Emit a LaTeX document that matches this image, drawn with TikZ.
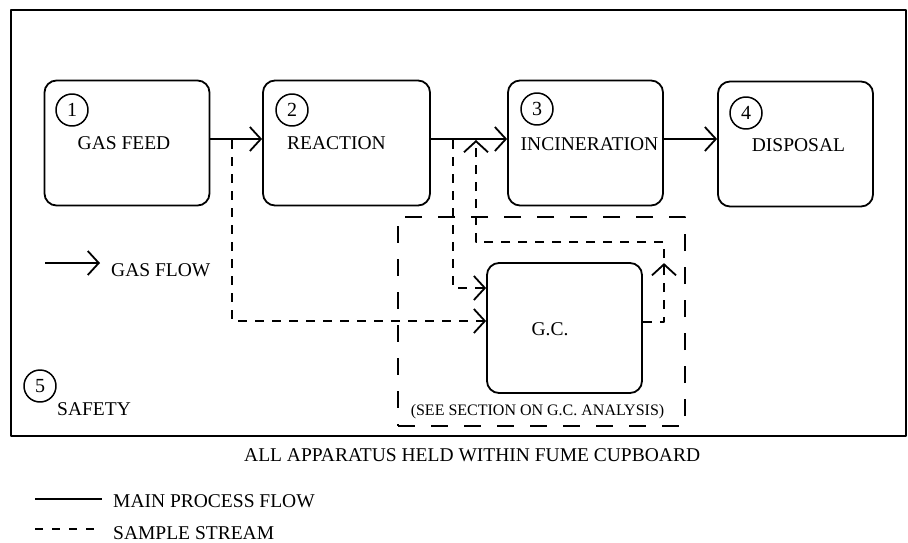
\documentclass[tikz,border=0pt]{standalone}
\usepackage{fontspec}
\setmainfont{Liberation Serif}
\usetikzlibrary{arrows.meta,positioning,decorations.markings}
\tikzset{
	->-/.style={decoration={
			markings,
			mark=at position #1 with {\arrow{>}}},postaction={decorate}}
}
\newcommand{\lblfont}{\fontsize{19.5}{22}\selectfont}

\begin{document}
\begin{tikzpicture}[x=1pt,y=-1pt,>={Straight Barb[length=11pt,width=24pt,line width=1.8pt]},
		line join=round,
		box/.style={draw, line width=1.8pt, rounded corners=12pt, inner sep=0pt, minimum height=125pt},
		num/.style={draw, circle, line width=1.5pt, minimum size=32pt, inner sep=0pt, font=\fontsize{20}{20}\selectfont},
		lbl/.style={inner sep=0pt, font=\lblfont},
		flow/.style={->, line width=1.8pt},
		sample/.style={->, line width=1.3pt, dash pattern=on 9pt off 8pt}]
		\useasboundingbox (0,0) rectangle (908,543);
		\node[draw, line width=1.4pt, inner sep=0pt, minimum width=895pt, minimum height=426pt] (cupboard) at (458.5,223) {};
		% process stages
		\node[box, minimum width=165pt] (feed) at (127,143) {};
		\node[box, minimum width=167pt] (react) at (346.5,143) {};
		\node[box, minimum width=155pt] (incin) at (585.5,143) {};
		\node[box, minimum width=155pt] (disp) at (795.5,144) {};
		\node[lbl, anchor=base] (feed_t) at (124,149) {GAS FEED};
		\node[lbl, anchor=base] (react_t) at (336.5,149) {REACTION};
		\node[lbl, anchor=base] (incin_t) at (589.5,150) {INCINERATION};
		\node[lbl, anchor=base] (disp_t) at (798.5,151) {DISPOSAL};
		\node[num] (n1) at (72,110) {1};
		\node[num] (n2) at (292,110) {2};
		\node[num] (n3) at (537,109) {3};
		\node[num] (n4) at (746,113) {4};
		\draw[flow] (feed.east |- 0,139) -- (react.west |- 0,139);
		\draw[flow] (react.east |- 0,139) -- (incin.west |- 0,139);
		\draw[flow] (incin.east |- 0,139) -- (disp.west |- 0,139);
		% g.c. sampling
		\node[draw, line width=1.4pt, dash pattern=on 17pt off 16pt, minimum width=287pt, minimum height=209pt] (gcarea) at (541.5,321.5) {};
		\node[box, minimum width=155pt, minimum height=130pt] (gc) at (564.5,328) {};
		\node[lbl, anchor=base] (gc_t) at (550,335) {G.C.};
		\node[inner sep=0pt, anchor=base, font=\fontsize{16}{18}\selectfont] (see) at (537.5,415) {(SEE SECTION ON G.C. ANALYSIS)};
		\coordinate (s1) at (232,140);
		\coordinate (s2) at (453,140);
		\coordinate (r1) at (664,242);
		\coordinate (r2) at (476,140);
		\draw[sample] (s1) |- (gc.west |- 0,321);
		\draw[sample] (s2) |- (gc.west |- 0,288);
		\draw[sample, ->-=80pt] (gc.east |- 0,322) -| (r1) -| (r2);
		% legend
		\coordinate (gf1) at (45,263);
		\coordinate (gf2) at (100,263);
		\draw[flow] (gf1) -- (gf2);
		\node[lbl, anchor=base west] (gasflow) at (111,276) {GAS FLOW};
		\node[num] (n5) at (40,386) {5};
		\node[lbl, anchor=base west] (safety) at (57,415) {SAFETY};
		\node[lbl, anchor=base west] (fume) at (244,461) {ALL APPARATUS HELD WITHIN FUME CUPBOARD};
		\coordinate (mp1) at (35,499);
		\coordinate (mp2) at (102,499);
		\draw[line width=1.8pt] (mp1) -- (mp2);
		\node[lbl, anchor=base west] (mainflow) at (113,507) {MAIN PROCESS FLOW};
		\coordinate (ss1) at (35,529);
		\coordinate (ss2) at (102,529);
		\draw[line width=1.3pt, dash pattern=on 8pt off 9pt] (ss1) -- (ss2);
		\node[lbl, anchor=base west] (sample) at (113,539) {SAMPLE STREAM};
	\end{tikzpicture}
\end{document}
